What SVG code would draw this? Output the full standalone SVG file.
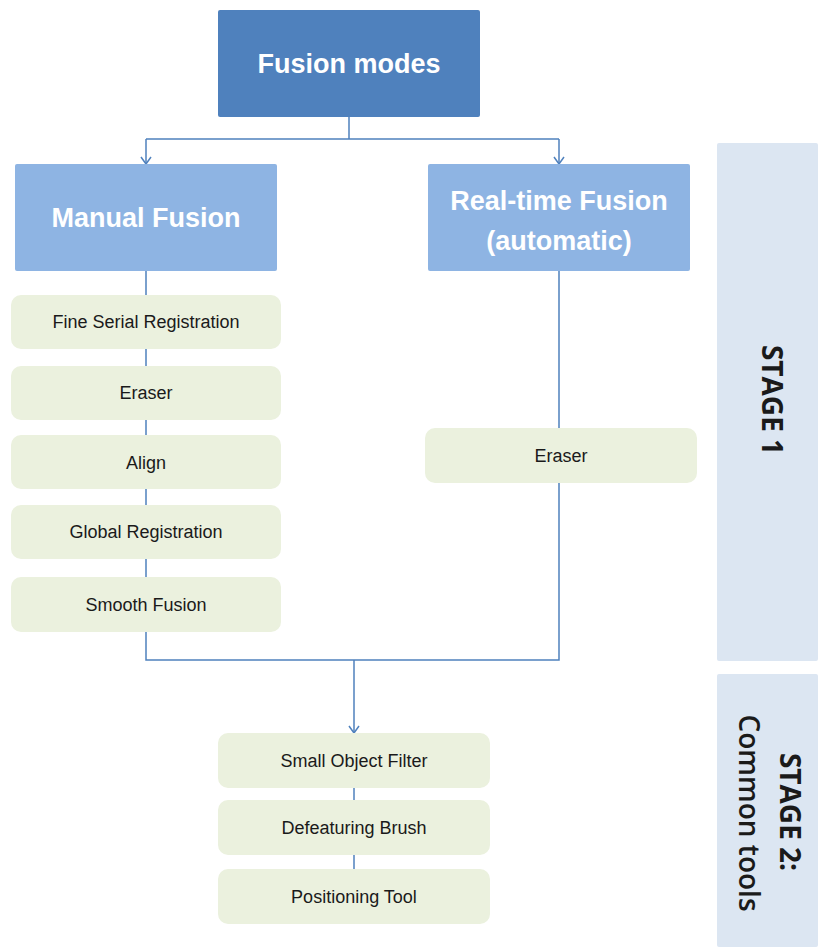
<svg xmlns="http://www.w3.org/2000/svg" width="818" height="947" viewBox="0 0 818 947">
<defs>
<marker id="arr" viewBox="0 0 12 12" refX="11" refY="6" markerWidth="12" markerHeight="12" markerUnits="userSpaceOnUse" orient="auto">
<path d="M4,1 L11,6 L4,11" fill="none" stroke="#4F81BD" stroke-width="1.5"/>
</marker>
</defs>
<style>
.top{fill:#4F81BD}
.mode{fill:#8EB4E3}
.tool{fill:#EBF1DE}
.stage{fill:#DCE6F2}
.ht{font-family:"Liberation Sans",Arial,sans-serif;font-weight:bold;fill:#ffffff;text-anchor:middle}
.tt{font-family:"Liberation Sans",Arial,sans-serif;font-size:18px;fill:#1a1a1a;text-anchor:middle}
.st{font-family:"Open Sans","Liberation Sans",sans-serif;font-size:28px;fill:#1a1a1a;text-anchor:middle}
.ln{fill:none;stroke:#4F81BD;stroke-width:1.5}
</style>
<rect width="818" height="947" fill="#ffffff"/>
<g id="stage1"><rect class="stage" x="717" y="143" width="101" height="518" rx="2"/>
<text class="st" font-weight="bold" transform="translate(762,400) rotate(90)">STAGE 1</text></g>
<g id="stage2"><rect class="stage" x="717" y="674" width="101" height="273" rx="2"/>
<text class="st" font-weight="bold" transform="translate(780,812) rotate(90)">STAGE 2:</text>
<text class="st" font-weight="600" transform="translate(739,813) rotate(90)">Common tools</text></g>
<g id="connectors">
<path class="ln" d="M349,117 V139 M146,139 H559"/>
<path class="ln" d="M146,139 V164" marker-end="url(#arr)"/>
<path class="ln" d="M559,139 V164" marker-end="url(#arr)"/>
<path class="ln" d="M146,271 V660 H559 V271"/>
<path class="ln" d="M354,660 V733" marker-end="url(#arr)"/>
<path class="ln" d="M354,788 V869"/>
</g>
<g id="fusion-modes"><rect class="top" x="218" y="10" width="262" height="107" rx="2"/>
<text class="ht" font-size="27" x="349" y="73">Fusion modes</text></g>
<g id="manual-fusion"><rect class="mode" x="15" y="164" width="262" height="107" rx="2"/>
<text class="ht" font-size="27" x="146" y="227">Manual Fusion</text></g>
<g id="realtime-fusion"><rect class="mode" x="428" y="164" width="262" height="107" rx="2"/>
<text class="ht" font-size="27" x="559" y="210">Real-time Fusion</text>
<text class="ht" font-size="27" x="559" y="250">(automatic)</text></g>
<g id="fine-serial"><rect class="tool" x="11" y="295" width="270" height="54" rx="10"/>
<text class="tt" x="146" y="328">Fine Serial Registration</text></g>
<g id="eraser-left"><rect class="tool" x="11" y="366" width="270" height="54" rx="10"/>
<text class="tt" x="146" y="399">Eraser</text></g>
<g id="align"><rect class="tool" x="11" y="435" width="270" height="54" rx="10"/>
<text class="tt" x="146" y="469">Align</text></g>
<g id="global-reg"><rect class="tool" x="11" y="505" width="270" height="54" rx="10"/>
<text class="tt" x="146" y="538">Global Registration</text></g>
<g id="smooth-fusion"><rect class="tool" x="11" y="577" width="270" height="55" rx="10"/>
<text class="tt" x="146" y="611">Smooth Fusion</text></g>
<g id="eraser-right"><rect class="tool" x="425" y="428" width="272" height="55" rx="10"/>
<text class="tt" x="561" y="462">Eraser</text></g>
<g id="small-object"><rect class="tool" x="218" y="733" width="272" height="55" rx="10"/>
<text class="tt" x="354" y="767">Small Object Filter</text></g>
<g id="defeaturing"><rect class="tool" x="218" y="800" width="272" height="55" rx="10"/>
<text class="tt" x="354" y="834">Defeaturing Brush</text></g>
<g id="positioning"><rect class="tool" x="218" y="869" width="272" height="55" rx="10"/>
<text class="tt" x="354" y="903">Positioning Tool</text></g>
</svg>
